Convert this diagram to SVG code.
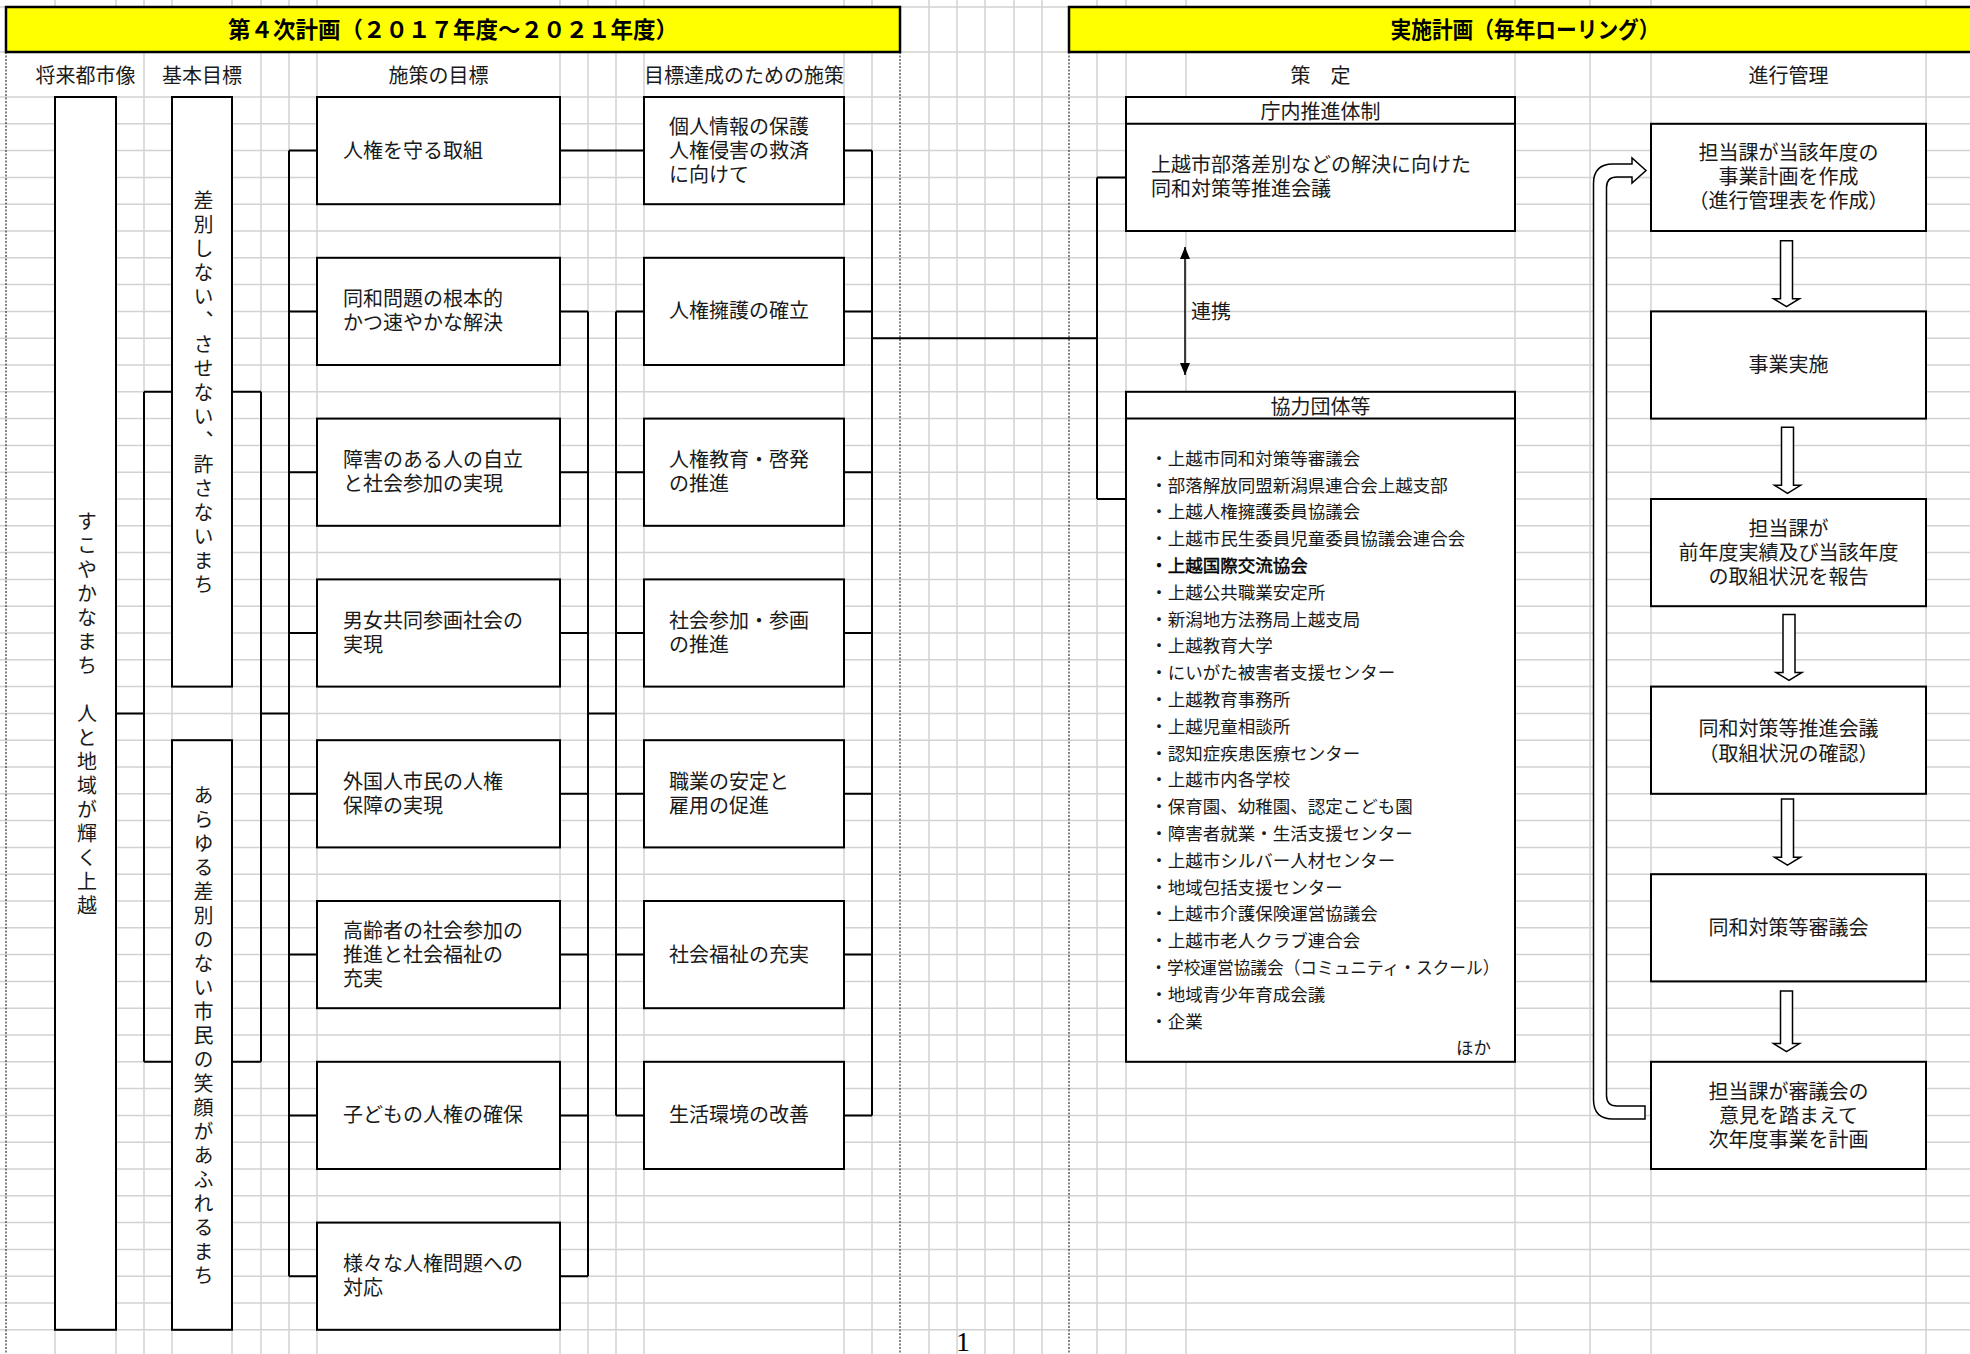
<svg xmlns="http://www.w3.org/2000/svg" width="1970" height="1354" viewBox="0 0 1970 1354">
<style>
.grid{stroke:#d2d2d2;stroke-width:1.5;fill:none}
.pb{stroke:#333;stroke-width:1.2;stroke-dasharray:2 1.5;fill:none}
.box{fill:#fff;stroke:#000;stroke-width:2}
.hdr{fill:#ffff00;stroke:#000;stroke-width:2.5}
.conn{stroke:#000;stroke-width:2;fill:none}
.blk{fill:#fff;stroke:#000;stroke-width:1.5}
.t{font-family:"Liberation Sans","Noto Sans CJK JP",sans-serif;font-size:20px;fill:#1a1a1a;dominant-baseline:central}
.c{text-anchor:middle}
.li{font-size:17.5px}
.b{font-weight:bold;fill:#000}
.sb{fill:#000;stroke:#000;stroke-width:0.45}
.vt{writing-mode:vertical-rl;letter-spacing:4px;text-anchor:middle}
</style>
<defs>
<marker id="ah" viewBox="0 0 12 10" refX="12" refY="5" markerWidth="12" markerHeight="10" markerUnits="userSpaceOnUse" orient="auto-start-reverse">
<path d="M0,0 L12,5 L0,10 Z" fill="#000"/>
</marker>
</defs>
<rect width="1970" height="1354" fill="#fff"/>
<g id="gridlines">
<path class="grid" d="M0,7H1970M0,52H1970M0,97H1970M0,123.8H1970M0,150.6H1970M0,177.4H1970M0,204.2H1970M0,231H1970M0,257.8H1970M0,284.6H1970M0,311.4H1970M0,338.2H1970M0,365H1970M0,391.8H1970M0,418.6H1970M0,445.4H1970M0,472.2H1970M0,499H1970M0,525.8H1970M0,552.6H1970M0,579.4H1970M0,606.2H1970M0,633H1970M0,659.8H1970M0,686.6H1970M0,713.4H1970M0,740.2H1970M0,767H1970M0,793.8H1970M0,820.6H1970M0,847.4H1970M0,874.2H1970M0,901H1970M0,927.8H1970M0,954.6H1970M0,981.4H1970M0,1008.2H1970M0,1035H1970M0,1061.8H1970M0,1088.6H1970M0,1115.4H1970M0,1142.2H1970M0,1169H1970M0,1195.8H1970M0,1222.6H1970M0,1249.4H1970M0,1276.2H1970M0,1303H1970M0,1329.8H1970"/>
<path class="grid" d="M55,0V52M55,97V1354M116,0V52M116,97V1354M172,0V52M172,97V1354M232,0V52M232,97V1354M144,0V1354M261,0V1354M289,0V1354M317,0V1354M560,0V1354M588,0V1354M616,0V1354M644,0V1354M844,0V1354M872,0V1354M929,0V1354M957,0V1354M985,0V1354M1014,0V1354M1042,0V1354M1097,0V1354M1126,0V1354M1186,0V1354M1515,0V1354M1590,0V1354M1651,0V1354M1926,0V1354"/>
<path class="pb" d="M6,52V1354M900,52V1354M1069,52V1354"/>
</g>
<g id="header-plan">
<rect class="hdr" x="6" y="7" width="894" height="45"/>
<text class="t c b" x="453" y="30" style="font-size:22.5px">第４次計画（２０１７年度～２０２１年度）</text>
</g>
<g id="header-impl">
<rect class="hdr" x="1069" y="7" width="910" height="45"/>
<text class="t c b" x="1525" y="30" style="font-size:22.5px" textLength="269" lengthAdjust="spacingAndGlyphs">実施計画（毎年ローリング）</text>
</g>
<g id="column-headers">
<text class="t c" x="85.5" y="76">将来都市像</text>
<text class="t c" x="202" y="76">基本目標</text>
<text class="t c" x="438.5" y="76">施策の目標</text>
<text class="t c" x="744" y="76">目標達成のための施策</text>
<text class="t c" x="1320.5" y="76">策　定</text>
<text class="t c" x="1788.5" y="76">進行管理</text>
</g>
<g id="connectors">
<path class="conn" d="M116,713.4H144M144,391.8V1061.8M144,391.8H172M144,1061.8H172M232,391.8H261M232,1061.8H261M261,391.8V1061.8M261,713.4H289"/>
<path class="conn" d="M289,150.6V1276.2M289,150.6H317M289,311.4H317M289,472.2H317M289,633H317M289,793.8H317M289,954.6H317M289,1115.4H317M289,1276.2H317"/>
<path class="conn" d="M560,150.6H644M560,311.4H588M560,472.2H588M560,633H588M560,793.8H588M560,954.6H588M560,1115.4H588M560,1276.2H588M588,311.4V1276.2M588,713.4H616"/>
<path class="conn" d="M616,311.4V1115.4M616,311.4H644M616,472.2H644M616,633H644M616,793.8H644M616,954.6H644M616,1115.4H644"/>
<path class="conn" d="M844,150.6H872M844,311.4H872M844,472.2H872M844,633H872M844,793.8H872M844,954.6H872M844,1115.4H872M872,150.6V1115.4M872,338.2H1097"/>
<path class="conn" d="M1097,177.4V499M1097,177.4H1126M1097,499H1126"/>
<line x1="1185" y1="247" x2="1185" y2="375" stroke="#000" stroke-width="1.5" marker-start="url(#ah)" marker-end="url(#ah)"/>
<text class="t" x="1191" y="311.5">連携</text>
<path class="blk" d="M1780.5,240.7H1792.5V298.7H1799.5L1786.5,306.7L1773.5,298.7H1780.5Z"/>
<path class="blk" d="M1781.5,427.3H1793.5V485.3H1800.5L1787.5,493.3L1774.5,485.3H1781.5Z"/>
<path class="blk" d="M1783,614.5H1795V672.4H1802L1789,680.4L1776,672.4H1783Z"/>
<path class="blk" d="M1781.5,799H1793.5V857.2H1800.5L1787.5,865.2L1774.5,857.2H1781.5Z"/>
<path class="blk" d="M1780.5,991H1792.5V1043.6H1799.5L1786.5,1051.6L1773.5,1043.6H1780.5Z"/>
<path class="blk" d="M1645,1119H1613Q1593.5,1119 1593.5,1099.5V183.5Q1593.5,164 1613,164H1632V158L1646,170.5L1632,183V177H1617Q1606.5,177 1606.5,187.5V1095.5Q1606.5,1106 1617,1106H1645Z"/>
</g>
<g id="node-vision">
<rect class="box" x="55" y="97" width="61" height="1232.8"/>
<text class="t vt" x="85.5" y="715">すこやかなまち　人と地域が輝く上越</text>
</g>
<g id="node-goal1">
<rect class="box" x="172" y="97" width="60" height="589.6"/>
<text class="t vt" x="202" y="394">差別しない、させない、許さないまち</text>
</g>
<g id="node-goal2">
<rect class="box" x="172" y="740.2" width="60" height="589.6"/>
<text class="t vt" x="202" y="1037">あらゆる差別のない市民の笑顔があふれるまち</text>
</g>
<g id="node-s0"><rect class="box" x="317" y="97" width="243" height="107.2"/><text class="t" x="343" y="150.6">人権を守る取組</text></g>
<g id="node-s1"><rect class="box" x="317" y="257.8" width="243" height="107.2"/><text class="t" x="343" y="299.4">同和問題の根本的</text><text class="t" x="343" y="323.4">かつ速やかな解決</text></g>
<g id="node-s2"><rect class="box" x="317" y="418.6" width="243" height="107.2"/><text class="t" x="343" y="460.2">障害のある人の自立</text><text class="t" x="343" y="484.2">と社会参加の実現</text></g>
<g id="node-s3"><rect class="box" x="317" y="579.4" width="243" height="107.2"/><text class="t" x="343" y="621">男女共同参画社会の</text><text class="t" x="343" y="645">実現</text></g>
<g id="node-s4"><rect class="box" x="317" y="740.2" width="243" height="107.2"/><text class="t" x="343" y="781.8">外国人市民の人権</text><text class="t" x="343" y="805.8">保障の実現</text></g>
<g id="node-s5"><rect class="box" x="317" y="901" width="243" height="107.2"/><text class="t" x="343" y="930.6">高齢者の社会参加の</text><text class="t" x="343" y="954.6">推進と社会福祉の</text><text class="t" x="343" y="978.6">充実</text></g>
<g id="node-s6"><rect class="box" x="317" y="1061.8" width="243" height="107.2"/><text class="t" x="343" y="1115.4">子どもの人権の確保</text></g>
<g id="node-s7"><rect class="box" x="317" y="1222.6" width="243" height="107.2"/><text class="t" x="343" y="1264.2">様々な人権問題への</text><text class="t" x="343" y="1288.2">対応</text></g>
<g id="node-m0"><rect class="box" x="644" y="97" width="200" height="107.2"/><text class="t" x="669" y="126.6">個人情報の保護</text><text class="t" x="669" y="150.6">人権侵害の救済</text><text class="t" x="669" y="174.6">に向けて</text></g>
<g id="node-m1"><rect class="box" x="644" y="257.8" width="200" height="107.2"/><text class="t" x="669" y="311.4">人権擁護の確立</text></g>
<g id="node-m2"><rect class="box" x="644" y="418.6" width="200" height="107.2"/><text class="t" x="669" y="460.2">人権教育・啓発</text><text class="t" x="669" y="484.2">の推進</text></g>
<g id="node-m3"><rect class="box" x="644" y="579.4" width="200" height="107.2"/><text class="t" x="669" y="621">社会参加・参画</text><text class="t" x="669" y="645">の推進</text></g>
<g id="node-m4"><rect class="box" x="644" y="740.2" width="200" height="107.2"/><text class="t" x="669" y="781.8">職業の安定と</text><text class="t" x="669" y="805.8">雇用の促進</text></g>
<g id="node-m5"><rect class="box" x="644" y="901" width="200" height="107.2"/><text class="t" x="669" y="954.6">社会福祉の充実</text></g>
<g id="node-m6"><rect class="box" x="644" y="1061.8" width="200" height="107.2"/><text class="t" x="669" y="1115.4">生活環境の改善</text></g>
<g id="node-internal">
<rect class="box" x="1126" y="97" width="389" height="134"/>
<line x1="1126" y1="123.8" x2="1515" y2="123.8" stroke="#000" stroke-width="2"/>
<text class="t c" x="1320.5" y="112">庁内推進体制</text>
<text class="t" x="1151" y="165.4">上越市部落差別などの解決に向けた</text>
<text class="t" x="1151" y="189.4">同和対策等推進会議</text>
</g>
<g id="node-partners">
<rect class="box" x="1126" y="391.8" width="389" height="670"/>
<line x1="1126" y1="418.6" x2="1515" y2="418.6" stroke="#000" stroke-width="2"/>
<text class="t c" x="1320.5" y="406.5">協力団体等</text>
<text class="t li" x="1150.3" y="458.8">・上越市同和対策等審議会</text>
<text class="t li" x="1150.3" y="485.6">・部落解放同盟新潟県連合会上越支部</text>
<text class="t li" x="1150.3" y="512.4">・上越人権擁護委員協議会</text>
<text class="t li" x="1150.3" y="539.2">・上越市民生委員児童委員協議会連合会</text>
<text class="t li sb" x="1150.3" y="566">・上越国際交流協会</text>
<text class="t li" x="1150.3" y="592.8">・上越公共職業安定所</text>
<text class="t li" x="1150.3" y="619.6">・新潟地方法務局上越支局</text>
<text class="t li" x="1150.3" y="646.4">・上越教育大学</text>
<text class="t li" x="1150.3" y="673.2">・にいがた被害者支援センター</text>
<text class="t li" x="1150.3" y="700">・上越教育事務所</text>
<text class="t li" x="1150.3" y="726.8">・上越児童相談所</text>
<text class="t li" x="1150.3" y="753.6">・認知症疾患医療センター</text>
<text class="t li" x="1150.3" y="780.4">・上越市内各学校</text>
<text class="t li" x="1150.3" y="807.2">・保育園、幼稚園、認定こども園</text>
<text class="t li" x="1150.3" y="834">・障害者就業・生活支援センター</text>
<text class="t li" x="1150.3" y="860.8">・上越市シルバー人材センター</text>
<text class="t li" x="1150.3" y="887.6">・地域包括支援センター</text>
<text class="t li" x="1150.3" y="914.4">・上越市介護保険運営協議会</text>
<text class="t li" x="1150.3" y="941.2">・上越市老人クラブ連合会</text>
<text class="t li" x="1150.3" y="968" textLength="349" lengthAdjust="spacingAndGlyphs">・学校運営協議会（コミュニティ・スクール）</text>
<text class="t li" x="1150.3" y="994.8">・地域青少年育成会議</text>
<text class="t li" x="1150.3" y="1021.6">・企業</text>
<text class="t li" x="1491" y="1048.4" text-anchor="end">ほか</text>
</g>
<g id="node-p1"><rect class="box" x="1651" y="123.8" width="275" height="107.2"/><text class="t c" x="1788.5" y="153.4">担当課が当該年度の</text><text class="t c" x="1788.5" y="177.4">事業計画を作成</text><text class="t c" x="1788.5" y="201.4">（進行管理表を作成）</text></g>
<g id="node-p2"><rect class="box" x="1651" y="311.4" width="275" height="107.2"/><text class="t c" x="1788.5" y="365">事業実施</text></g>
<g id="node-p3"><rect class="box" x="1651" y="499" width="275" height="107.2"/><text class="t c" x="1788.5" y="529.2">担当課が</text><text class="t c" x="1788.5" y="553.2">前年度実績及び当該年度</text><text class="t c" x="1788.5" y="577.2">の取組状況を報告</text></g>
<g id="node-p4"><rect class="box" x="1651" y="686.6" width="275" height="107.2"/><text class="t c" x="1788.5" y="729">同和対策等推進会議</text><text class="t c" x="1788.5" y="753.5">（取組状況の確認）</text></g>
<g id="node-p5"><rect class="box" x="1651" y="874.2" width="275" height="107.2"/><text class="t c" x="1788.5" y="927.8">同和対策等審議会</text></g>
<g id="node-p6"><rect class="box" x="1651" y="1061.8" width="275" height="107.2"/><text class="t c" x="1788.5" y="1091.6">担当課が審議会の</text><text class="t c" x="1788.5" y="1116">意見を踏まえて</text><text class="t c" x="1788.5" y="1140.4">次年度事業を計画</text></g>
<text x="963" y="1350.5" text-anchor="middle" font-family="Liberation Serif, serif" font-size="28" fill="#000">1</text>
</svg>
